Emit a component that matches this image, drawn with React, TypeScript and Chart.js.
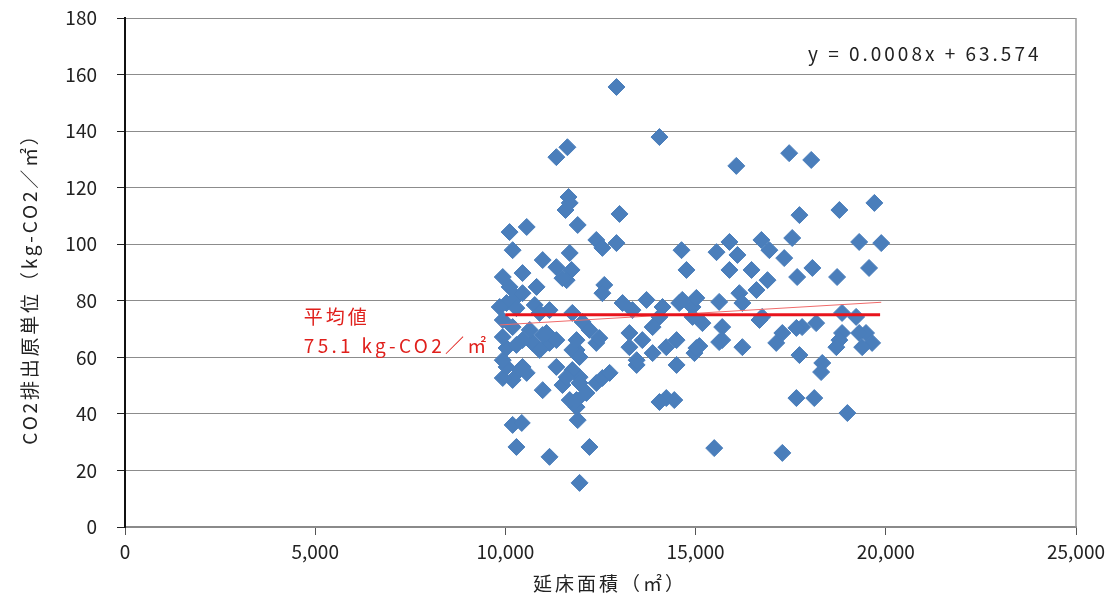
import React, { useEffect, useRef } from "react";
import { Chart, registerables } from "chart.js";

Chart.register(...registerables);

const FONT = "'Noto Sans CJK JP', 'Noto Sans', sans-serif";

// 延床面積 (㎡)
const floorArea: number[] = [
  12920, 14050, 11340, 11630, 17460, 18040, 16070, 11660, 11690, 11580,
  13000, 17730, 18780, 19700, 11900, 10560, 10110, 10190, 12390, 12550,
  12920, 14630, 14760, 10980, 11690, 11340, 11740, 11610, 9930, 10450,
  10820, 12600, 12550, 10290, 13710, 13080, 14130, 14570, 14920, 15890,
  16730, 17540, 19300, 19880, 15550, 16100, 16940, 17330, 15890, 16470,
  16890, 17670, 18070, 18720, 19560, 15020, 15620, 16150, 16600, 16230,
  16750, 18850, 19220, 15180, 15700, 17280, 17800, 18170, 18850, 19480,
  15100, 15700, 16230, 17120, 18780, 19640, 18330, 18300, 17730, 17650,
  18120, 18990, 15490, 17280, 11950, 12210, 11160, 10290, 10190, 10430,
  11900, 11870, 11690, 12130, 11500, 10980, 12390, 12550, 11950, 11760,
  11340, 10560, 10190, 9930, 10370, 10030, 10030, 10290, 10710, 11160,
  11870, 12390, 13260, 13870, 13450, 14500, 14970, 14230, 14050, 14440,
  18700, 19380,
  11500, 10110, 10450, 10030, 10290, 10770, 11160, 11760, 12030, 12210,
  12470, 13340, 14050, 14920, 9930, 10190, 10640, 10980, 11340, 11760,
  11950, 9930, 10450, 9930, 10450, 10900, 11610, 11950, 12740, 13450,
  13600, 14230, 11870,
  16680, 17650, 19300, 15620, 15020, 14650,
  9850, 10900, 13260, 13870, 14500, 11080, 11870,
];

// CO2排出原単位 (kg-CO2/㎡)
const co2Intensity: number[] = [
  155.6, 137.9, 130.8, 134.3, 132.2, 129.8, 127.7, 116.7, 114.6, 112.1,
  110.7, 110.3, 112.1, 114.6, 106.8, 106.1, 104.3, 97.9, 101.5, 98.7,
  100.4, 97.9, 90.9, 94.4, 96.9, 91.9, 90.9, 87.3, 88.4, 89.8,
  84.9, 85.6, 82.7, 81.3, 80.3, 79.2, 77.8, 79.2, 77.8, 100.8,
  101.5, 102.2, 100.8, 100.4, 97.2, 96.2, 97.9, 95.1, 90.9, 90.9,
  87.3, 88.4, 91.6, 88.4, 91.6, 81, 79.6, 82.7, 83.8, 79.2,
  74.3, 75.7, 74.3, 72.1, 70.7, 68.6, 70.7, 72.1, 68.6, 68.6,
  64, 66.1, 63.6, 65.1, 66.1, 65.1, 58, 54.8, 60.8, 45.6,
  45.6, 40.3, 27.9, 26.2, 15.6, 28.3, 24.8, 28.3, 36.1, 36.8,
  37.8, 42.4, 44.9, 47.4, 50.2, 48.4, 50.9, 52.7, 53, 55.5,
  56.6, 54.5, 52, 52.7, 55.5, 56.6, 63.3, 64.4, 65.1, 65.1,
  62.6, 65.1, 63.6, 61.5, 57.3, 57.3, 61.5, 45.6, 44.2, 44.9,
  63.6, 63.6,
  88, 84.9, 82.7, 79.2, 77.4, 78.5, 76.7, 75.7, 72.5, 69.7,
  66.8, 76.7, 74.3, 74.3, 73.2, 70.7, 69.7, 67.9, 66.1, 62.6,
  60.1, 67.2, 66.1, 59, 56.6, 62.6, 53, 50.9, 54.5, 59,
  66.1, 63.6, 44.9,
  73.2, 70.4, 68.6, 65.4, 63.3, 80.3,
  77.8, 75.7, 68.6, 70.7, 66.1, 68.6, 66.1,
];

const meanValue = 75.1;
const meanRange = [10000, 19850];
const trendSlope = 0.0008;
const trendIntercept = 63.574;
const trendRange = [9850, 19880];

const xTicks = [0, 5000, 10000, 15000, 20000, 25000];
const yTicks = [0, 20, 40, 60, 80, 100, 120, 140, 160, 180];

const xTitle = "延床面積（㎡）";
const yTitle = "CO2排出原単位（kg-CO2／㎡）";
const meanLabel1 = "平均値";
const meanLabel2 = "75.1 kg-CO2／㎡";
const equationLabel = "y = 0.0008x + 63.574";

function drawSpaced(ctx: any, text: string, x: number, y: number, spacing: number, align: string) {
  ctx.save();
  try {
    ctx.letterSpacing = `${spacing}px`;
  } catch (e) {}
  const w = ctx.measureText(text).width;
  let sx = x;
  if (align === "center") sx = x - w / 2;
  ctx.textAlign = "left";
  ctx.fillText(text, sx, y);
  ctx.restore();
}

const textPlugin = {
  id: "textPlugin",
  afterDraw(chart: any) {
    const { ctx, chartArea, scales } = chart;
    const xs = scales.x;
    const ys = scales.y;
    ctx.save();
    // right border of plot area
    ctx.strokeStyle = "#9a9a9a";
    ctx.lineWidth = 1.5;
    ctx.beginPath();
    ctx.moveTo(chartArea.right, chartArea.top);
    ctx.lineTo(chartArea.right, chartArea.bottom);
    ctx.stroke();

    ctx.font = `19px ${FONT}`;
    ctx.fillStyle = "#222";
    ctx.textBaseline = "middle";
    drawSpaced(ctx, xTitle, 610, 584, 3, "center");

    ctx.save();
    ctx.translate(30, 284);
    ctx.rotate(-Math.PI / 2);
    drawSpaced(ctx, yTitle, 0, 0, 2.8, "center");
    ctx.restore();

    drawSpaced(ctx, equationLabel, 808, ys.getPixelForValue(167.5), 3, "left");

    ctx.fillStyle = "#e0201c";
    drawSpaced(ctx, meanLabel1, xs.getPixelForValue(4700), ys.getPixelForValue(74.5), 3, "left");
    drawSpaced(ctx, meanLabel2, xs.getPixelForValue(4700), ys.getPixelForValue(64), 3.3, "left");
    ctx.restore();
  },
};

export default function App() {
  const canvasRef = useRef<HTMLCanvasElement | null>(null);

  useEffect(() => {
    const canvas = canvasRef.current;
    if (!canvas) return;
    const points = floorArea.map((x, i) => ({ x, y: co2Intensity[i] }));
    const chart = new Chart(canvas, {
      type: "scatter",
      data: {
        datasets: [
          {
            label: "mean",
            type: "line",
            data: meanRange.map((x) => ({ x, y: meanValue })),
            borderColor: "#e8141c",
            borderWidth: 3,
            pointRadius: 0,
            order: 0,
          },
          {
            label: "trend",
            type: "line",
            data: trendRange.map((x) => ({ x, y: trendSlope * x + trendIntercept })),
            borderColor: "#f06a6a",
            borderWidth: 1,
            pointRadius: 0,
            order: 0,
          },
          {
            label: "data",
            data: points,
            pointStyle: "rectRot",
            pointRadius: 8.5,
            backgroundColor: "#4a7ebb",
            borderColor: "#4a7ebb",
            borderWidth: 1,
            order: 1,
          },
        ],
      },
      options: {
        animation: false,
        responsive: true,
        maintainAspectRatio: false,
        layout: { padding: { top: 18, right: 43, left: 0, bottom: 0 } },
        plugins: {
          legend: { display: false },
          tooltip: { enabled: false },
        },
        scales: {
          x: {
            type: "linear",
            min: 0,
            max: 25000,
            afterBuildTicks: (s: any) => {
              s.ticks = xTicks.map((v) => ({ value: v }));
            },
            afterFit: (s: any) => {
              s.height = 75;
              s.paddingLeft = 0;
              s.paddingRight = 0;
            },
            ticks: {
              color: "#222",
              font: { family: FONT, size: 19 },
              padding: 5,
              maxRotation: 0,
              callback: (v: any) => Number(v).toLocaleString("en-US"),
            },
            grid: {
              drawOnChartArea: false,
              tickLength: 8,
              tickColor: "#555",
            },
            border: { color: "#8a8a8a", width: 2 },
          },
          y: {
            type: "linear",
            min: 0,
            max: 180,
            afterBuildTicks: (s: any) => {
              s.ticks = yTicks.map((v) => ({ value: v }));
            },
            afterFit: (s: any) => {
              s.width = 125;
              s.paddingTop = 0;
              s.paddingBottom = 0;
            },
            ticks: {
              color: "#222",
              font: { family: FONT, size: 19 },
              padding: 20,
            },
            grid: {
              color: "#8c8c8c",
              lineWidth: 1,
              tickLength: 8,
              tickColor: "#222",
            },
            border: { color: "#111", width: 2 },
          },
        },
      },
      plugins: [textPlugin],
    });
    return () => chart.destroy();
  }, []);

  return (
    <div style={{ position: "fixed", left: 0, top: 0, width: 1119, height: 602, background: "#fff" }}>
      <canvas ref={canvasRef} />
    </div>
  );
}
